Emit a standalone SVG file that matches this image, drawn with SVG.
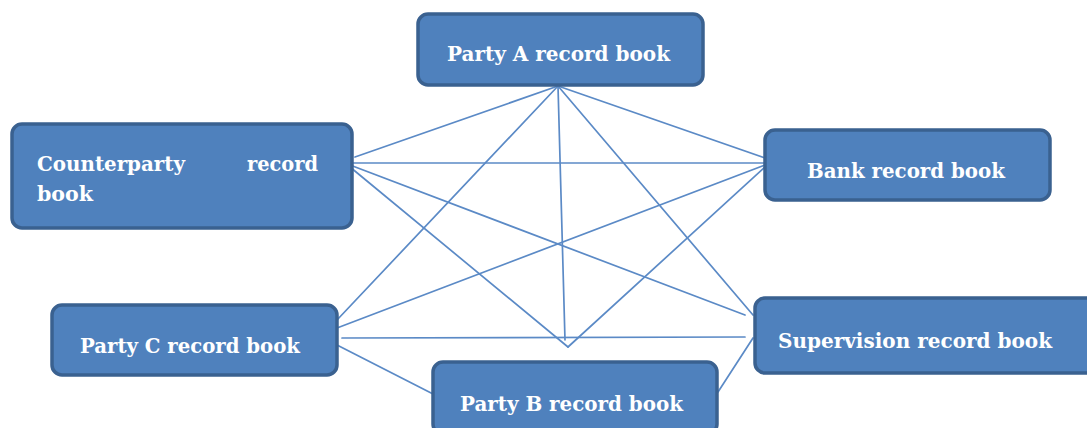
<svg xmlns="http://www.w3.org/2000/svg" width="1087" height="428" viewBox="0 0 1087 428">
  <style>
    .box { fill: #4f81bd; stroke: #3a6190; stroke-width: 3.5; }
    .lbl { fill: #ffffff; font-family: "DejaVu Serif", "Liberation Serif", serif; font-weight: bold; font-size: 21px; }
    .link { stroke: #5b8ac6; stroke-width: 1.7; fill: none; stroke-linecap: round; }
  </style>
  <rect width="1087" height="428" fill="#ffffff"/>

  <!-- connectors -->
  <g id="connectors">
    <line class="link" x1="558" y1="86" x2="355" y2="157"/>
    <line class="link" x1="558" y1="86" x2="337" y2="320"/>
    <line class="link" x1="558" y1="86" x2="565" y2="340"/>
    <line class="link" x1="558" y1="86" x2="765" y2="158"/>
    <line class="link" x1="558" y1="86" x2="753" y2="315"/>
    <line class="link" x1="350" y1="163" x2="765" y2="163"/>
    <line class="link" x1="350" y1="165" x2="745" y2="315"/>
    <line class="link" x1="350" y1="167" x2="568" y2="347"/>
    <line class="link" x1="765" y1="167" x2="568" y2="347"/>
    <line class="link" x1="765" y1="165" x2="337" y2="328"/>
    <line class="link" x1="342" y1="338" x2="745" y2="337"/>
    <line class="link" x1="337" y1="345" x2="435" y2="395"/>
    <line class="link" x1="753" y1="338" x2="718" y2="392"/>
  </g>

  <g id="party-a">
    <rect class="box" x="418" y="14" width="285" height="71" rx="10"/>
    <text class="lbl" x="447" y="61" textLength="223" lengthAdjust="spacingAndGlyphs">Party A record book</text>
  </g>

  <g id="counterparty">
    <rect class="box" x="12" y="124" width="340" height="104" rx="10"/>
    <text class="lbl" x="37" y="171" textLength="148" lengthAdjust="spacingAndGlyphs">Counterparty</text>
    <text class="lbl" x="247" y="171" textLength="71" lengthAdjust="spacingAndGlyphs">record</text>
    <text class="lbl" x="37" y="201" textLength="56" lengthAdjust="spacingAndGlyphs">book</text>
  </g>

  <g id="bank">
    <rect class="box" x="765" y="130" width="285" height="70" rx="10"/>
    <text class="lbl" x="807" y="178" textLength="198" lengthAdjust="spacingAndGlyphs">Bank record book</text>
  </g>

  <g id="party-c">
    <rect class="box" x="52" y="305" width="285" height="70" rx="10"/>
    <text class="lbl" x="80" y="353" textLength="220" lengthAdjust="spacingAndGlyphs">Party C record book</text>
  </g>

  <g id="party-b">
    <rect class="box" x="433" y="362" width="284" height="72" rx="10"/>
    <text class="lbl" x="460" y="411" textLength="223" lengthAdjust="spacingAndGlyphs">Party B record book</text>
  </g>

  <g id="supervision">
    <rect class="box" x="755" y="298" width="345" height="75" rx="10"/>
    <text class="lbl" x="778" y="348" textLength="274" lengthAdjust="spacingAndGlyphs">Supervision record book</text>
  </g>
</svg>
